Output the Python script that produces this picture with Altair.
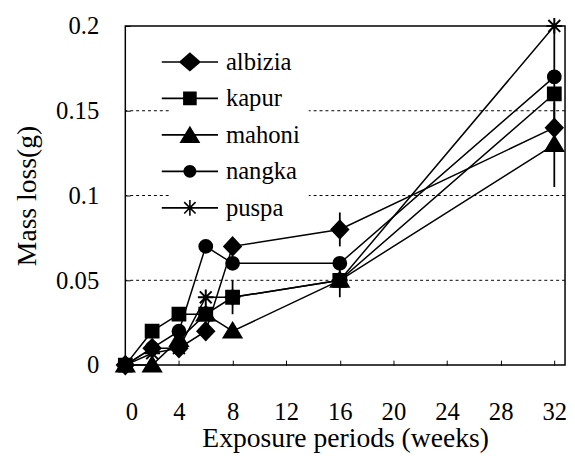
import altair as alt
import pandas as pd

# ---- data ----
weeks = [0, 2, 4, 6, 8, 16, 32]
albizia = [0, 0.01, 0.01, 0.02, 0.07, 0.08, 0.14]
kapur = [0, 0.02, 0.03, 0.03, 0.04, 0.05, 0.16]
mahoni = [0, 0, 0.015, 0.03, 0.02, 0.05, 0.13]
nangka = [0, 0.01, 0.02, 0.07, 0.06, 0.06, 0.17]
puspa = [0, 0.007, 0.01, 0.04, 0.04, 0.05, 0.2]
series_names = ["albizia", "kapur", "mahoni", "nangka", "puspa"]

err_week = [8, 16, 16, 32, 32]
err_low = [0.03, 0.07, 0.04, 0.105, 0.14]
err_high = [0.05, 0.09, 0.06, 0.155, 0.2]

x_ticks = [0, 4, 8, 12, 16, 20, 24, 28, 32]
y_ticks = [0, 0.05, 0.1, 0.15, 0.2]
grid_values = [0.05, 0.1, 0.15]

rows = []
for name, vals in zip(series_names, [albizia, kapur, mahoni, nangka, puspa]):
    for w, v in zip(weeks, vals):
        rows.append({"week": w, "loss": v, "series": name})
df = pd.DataFrame(rows)
err_df = pd.DataFrame({"week": err_week, "low": err_low, "high": err_high})
grid_df = pd.DataFrame({"g": grid_values})

FONT = "Times New Roman"
LFONT = "Times New Roman, serif"

# marker shapes (plot)
plot_shapes = [
    "M0,-0.9L0.85,0L0,0.9L-0.85,0Z",
    "M-0.65,-0.65H0.65V0.65H-0.65Z",
    "M0,-0.85L0.9,0.65L-0.9,0.65Z",
    "M0.65,0A0.65,0.65,0,1,1,-0.65,0A0.65,0.65,0,1,1,0.65,0Z",
    "M-0.8,0H0.8M0,-0.8V0.8M-0.6,-0.6L0.6,0.6M-0.6,0.6L0.6,-0.6",
]
# legend shapes (symbol size 529 -> unit = 11.5px): filled line + marker
LINE = "M-2.48,-0.07H2.48V0.07H-2.48Z"
legend_shapes = [
    LINE + "M0,-0.85L0.98,0L0,0.85L-0.98,0Z",
    LINE + "M-0.6,-0.6H0.6V0.6H-0.6Z",
    LINE + "M0,-0.8L0.92,0.72L-0.92,0.72Z",
    LINE + "M0.57,0A0.57,0.57,0,1,1,-0.57,0A0.57,0.57,0,1,1,0.57,0Z",
    LINE + "M-0.07,-0.7H0.07V0.7H-0.07Z"
    + "M-0.45,-0.55L0.55,0.45L0.45,0.55L-0.55,-0.45Z"
    + "M-0.55,0.45L0.45,-0.55L0.55,-0.45L-0.45,0.55Z",
]

xscale = alt.Scale(domain=[0, 32.8], nice=False, zero=False)
yscale = alt.Scale(domain=[0, 0.2], nice=False)

x_axis = alt.Axis(
    values=x_ticks, offset=-5, tickSize=5, domain=False, grid=False,
    labelPadding=35, labelFont=LFONT, labelFontSize=25, labelColor="black",
    labelFontWeight=400, labelFontStyle="normal",
    title="Exposure periods (weeks)", titleFont=FONT, titleFontSize=28,
    titleFontWeight="normal", titleColor="black", titlePadding=1,
    tickColor="black", tickWidth=1,
)
y_axis = alt.Axis(
    values=y_ticks, format="~g", offset=-5, tickSize=5, domain=False, grid=False,
    labelPadding=27, labelFont=LFONT, labelFontSize=25, labelColor="black",
    labelFontWeight=400, labelFontStyle="normal",
    title="Mass loss(g)", titleFont=FONT, titleFontSize=28,
    titleFontWeight="normal", titleColor="black", titlePadding=14,
    tickColor="black", tickWidth=1,
)

grid = alt.Chart(grid_df).mark_rule(
    color="black", strokeWidth=1, strokeDash=[3, 3]
).encode(y=alt.Y("g:Q", scale=yscale, axis=y_axis))

lines = alt.Chart(df).mark_line(color="black", strokeWidth=1.5).encode(
    x=alt.X("week:Q", scale=xscale, axis=x_axis),
    y=alt.Y("loss:Q", scale=yscale, axis=y_axis),
    detail="series:N",
)

errs = alt.Chart(err_df).mark_rule(color="black", strokeWidth=1.8).encode(
    x=alt.X("week:Q", scale=xscale, axis=x_axis),
    y=alt.Y("low:Q", scale=yscale, axis=y_axis),
    y2="high:Q",
)

points = alt.Chart(df).mark_point(
    filled=True, fill="black", stroke="black", strokeWidth=2, opacity=1, size=400
).encode(
    x=alt.X("week:Q", scale=xscale, axis=x_axis),
    y=alt.Y("loss:Q", scale=yscale, axis=y_axis),
    shape=alt.Shape("series:N", scale=alt.Scale(domain=series_names, range=plot_shapes), legend=None),
)

legend_layer = alt.Chart(df).mark_point(
    filled=True, fill="black", opacity=0, size=10
).encode(
    x=alt.X("week:Q", scale=xscale, axis=x_axis),
    y=alt.Y("loss:Q", scale=yscale, axis=y_axis),
    shape=alt.Shape(
        "series:N",
        scale=alt.Scale(domain=series_names, range=legend_shapes),
        legend=alt.Legend(
            orient="none", legendX=45, legendY=16, title=None,
            symbolSize=529, symbolFillColor="black", symbolStrokeWidth=0,
            symbolOpacity=1,
            labelFont=LFONT, labelFontSize=25, labelColor="black", labelOffset=24,
            labelFontWeight=400, labelFontStyle="normal",
            rowPadding=11, padding=8, fillColor="white", strokeColor="white",
        ),
    ),
)

chart = alt.layer(grid, lines, errs, points, legend_layer).resolve_scale(
    shape="independent"
).properties(
    width=446, height=344,
    autosize=alt.AutoSizeParams(type="none"),
    padding={"left": 119, "top": 15, "right": 2, "bottom": 89},
    background="white",
).configure(font=FONT).configure_axis(
    labelFont=LFONT, titleFont=FONT
).configure_legend(labelFont=LFONT).configure_view(stroke="black", strokeWidth=1.5)

chart.save("out.html", embed_options={"renderer": "svg", "actions": False})
